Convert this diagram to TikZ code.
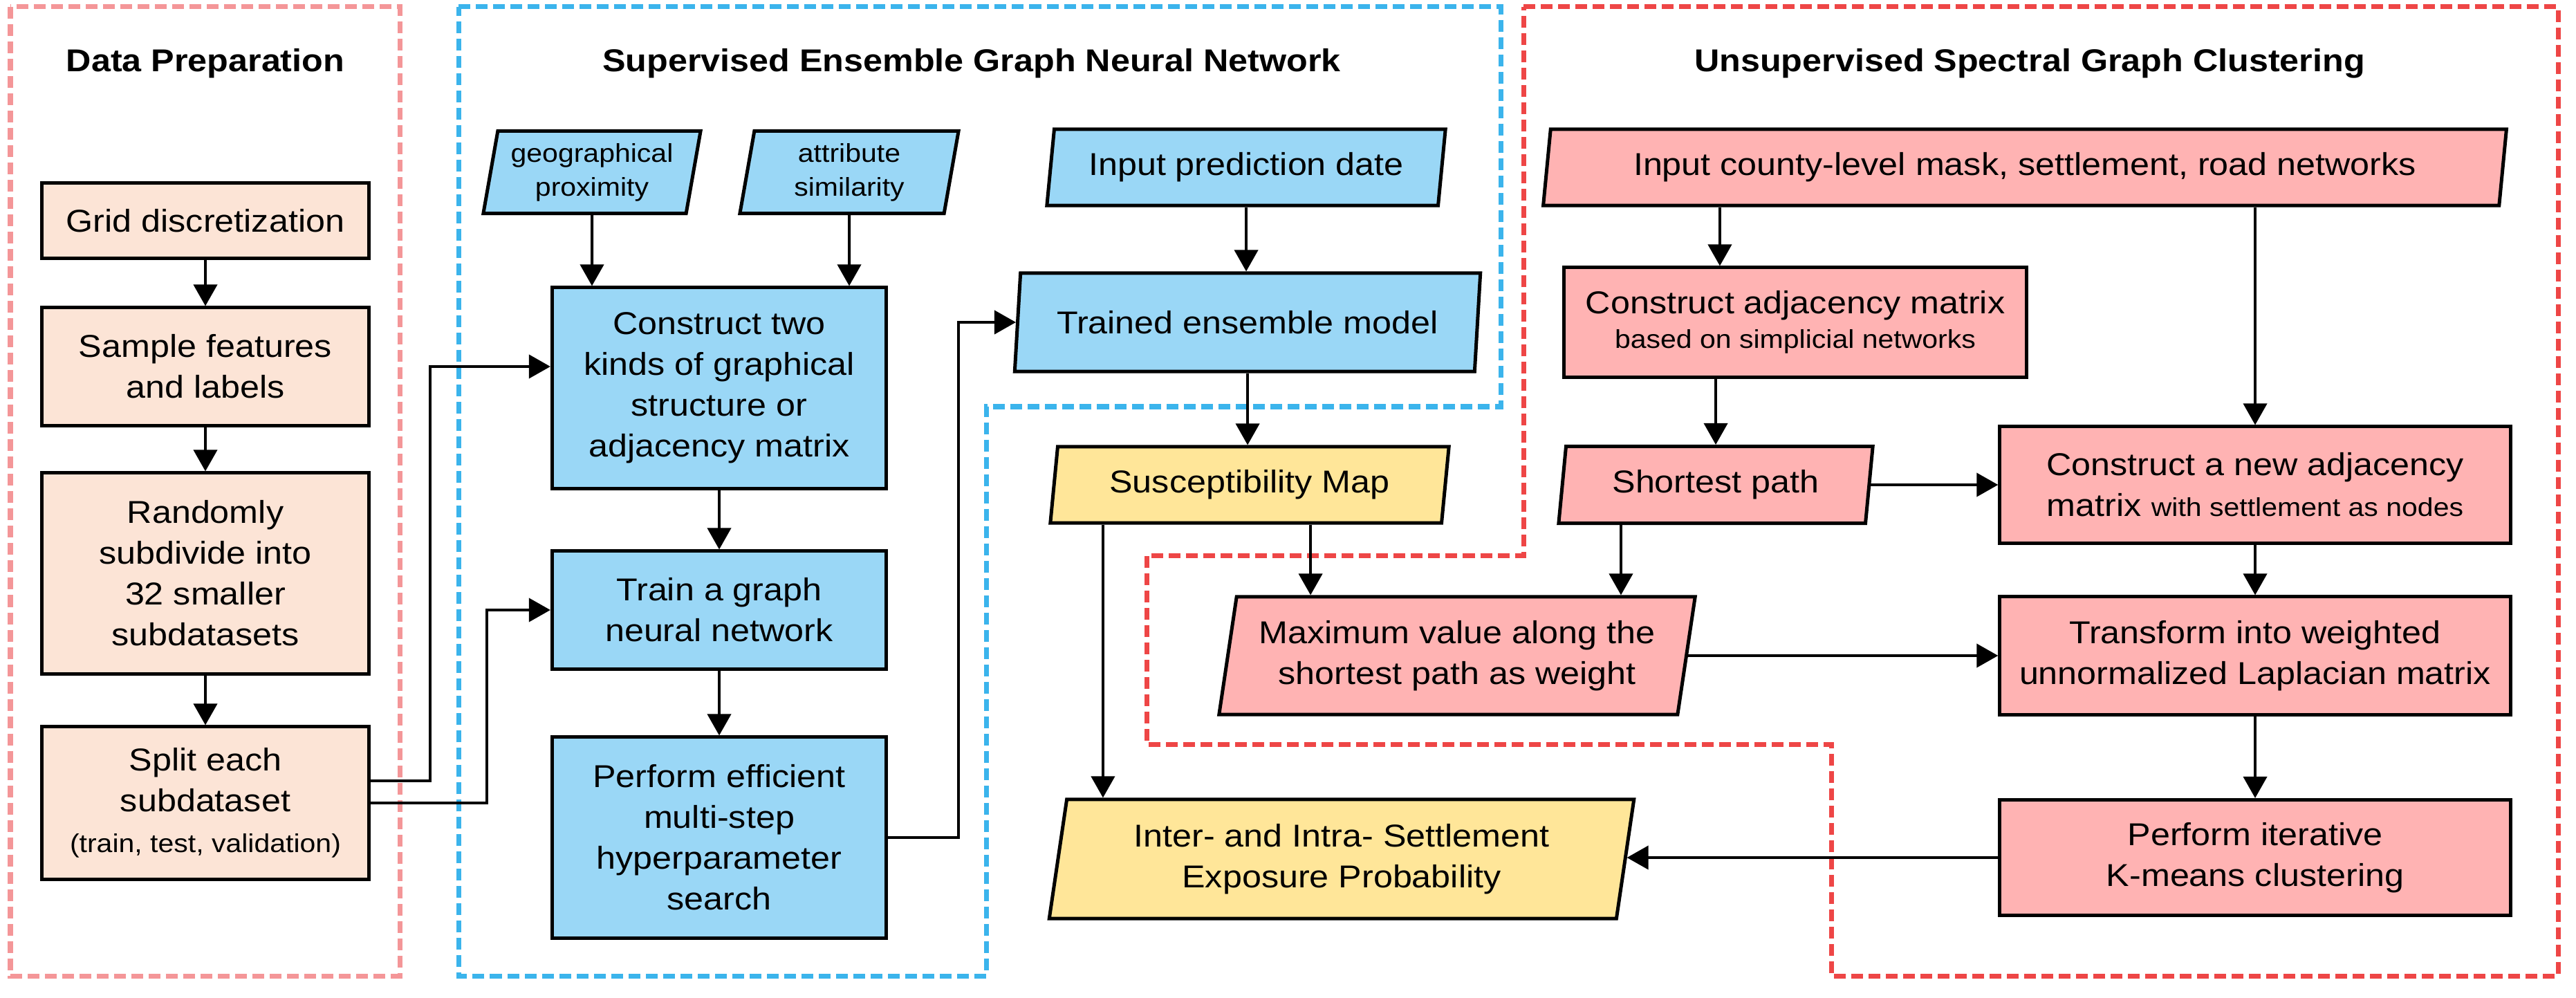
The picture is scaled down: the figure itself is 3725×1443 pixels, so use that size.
\documentclass[tikz,border=0pt]{standalone}
\usepackage{fontspec}
\setmainfont{Liberation Sans}[FakeStretch=1.1]
\usetikzlibrary{arrows.meta,shapes.geometric}
\definecolor{prepfill}{HTML}{FCE4D6}
\definecolor{gnnfill}{HTML}{9AD7F6}
\definecolor{mapfill}{HTML}{FFE699}
\definecolor{clusterfill}{HTML}{FFB3B3}
\definecolor{prepline}{HTML}{F49698}
\definecolor{gnnline}{HTML}{3BB4EC}
\definecolor{clusterline}{HTML}{EE4646}
\newcommand{\boxfont}{\fontsize{13}{16.8}\selectfont}
\newcommand{\notefont}{\fontsize{10.6}{14}\selectfont}

\begin{document}
\begin{tikzpicture}[x=0.01cm,y=-0.01cm]
\tikzstyle{title}=[font=\boxfont\bfseries]
\tikzstyle{box}=[draw,line width=0.05cm,inner sep=0pt,align=center,font=\boxfont]
\tikzstyle{prepbox}=[box,fill=prepfill,minimum width=4.73cm]
\tikzstyle{gnnbox}=[box,fill=gnnfill,minimum width=4.83cm]
\tikzstyle{clusterbox}=[box,fill=clusterfill]
\tikzstyle{slanted}=[box,trapezium,trapezium left angle=76,trapezium right angle=104,trapezium stretches body]
\tikzstyle{gnnio}=[slanted,fill=gnnfill]
\tikzstyle{mapio}=[slanted,fill=mapfill]
\tikzstyle{clusterio}=[slanted,fill=clusterfill]
\tikzstyle{arrow}=[line width=0.04cm,-{Triangle[length=0.31cm,width=0.34cm]}]
\tikzstyle{frame}=[line width=0.07cm,dash pattern=on 0.17cm off 0.08cm]
\useasboundingbox (0,0) rectangle (3725,1443);
\draw[frame,prepline] (15,10) rectangle (578,1411);
\draw[frame,gnnline] (663,10) -- (2170,10) -- (2170,588) -- (1426,588) -- (1426,1411) -- (663,1411) -- cycle;
\draw[frame,clusterline] (2203,10) -- (3699,10) -- (3699,1411) -- (2648,1411) -- (2648,1076) -- (1658,1076) -- (1658,803) -- (2203,803) -- cycle;
\node[title] (preptitle) at (297,92) {Data Preparation};
\node[title] (gnntitle) at (1405,92) {Supervised Ensemble Graph Neural Network};
\node[title] (clustertitle) at (2935,92) {Unsupervised Spectral Graph Clustering};
\node[prepbox,minimum height=1.08cm] (grid) at (297,319) {Grid discretization};
\node[prepbox,minimum height=1.70cm] (sample) at (297,530) {Sample features\\and labels};
\node[prepbox,minimum height=2.90cm] (subdivide) at (297,829) {Randomly\\subdivide into\\32 smaller\\subdatasets};
\node[prepbox,minimum height=2.20cm] (split) at (297,1161) {Split each\\subdataset\\{\notefont(train, test, validation)}};
\node[gnnio,minimum width=3.14cm,minimum height=1.19cm,font=\notefont] (geo) at (856,249) {geographical\\proximity};
\node[gnnio,minimum width=3.16cm,minimum height=1.19cm,font=\notefont] (attr) at (1228,249) {attribute\\similarity};
\node[gnnbox,minimum height=2.90cm] (structure) at (1040,561) {Construct two\\kinds of graphical\\structure or\\adjacency matrix};
\node[gnnbox,minimum height=1.70cm] (train) at (1040,882) {Train a graph\\neural network};
\node[gnnbox,minimum height=2.90cm] (search) at (1040,1211) {Perform efficient\\multi-step\\hyperparameter\\search};
\node[gnnio,minimum width=5.76cm,minimum height=1.10cm] (date) at (1802,242) {Input prediction date};
\node[gnnio,minimum width=6.73cm,minimum height=1.42cm] (model) at (1804,466) {Trained ensemble model};
\node[mapio,minimum width=5.76cm,minimum height=1.10cm] (map) at (1807,701) {Susceptibility Map};
\node[mapio,minimum width=8.45cm,minimum height=1.72cm] (exposure) at (1940,1242) {Inter- and Intra- Settlement\\Exposure Probability};
\node[clusterio,minimum width=13.92cm,minimum height=1.10cm] (input) at (2928,242) {Input county-level mask, settlement, road networks};
\node[clusterbox,minimum width=6.68cm,minimum height=1.58cm] (adjacency) at (2596,466) {Construct adjacency matrix\\[-0.09cm]{\notefont based on simplicial networks}};
\node[clusterio,minimum width=4.54cm,minimum height=1.11cm] (path) at (2481,701) {Shortest path};
\node[clusterio,minimum width=6.88cm,minimum height=1.70cm] (weight) at (2107,948) {Maximum value along the\\shortest path as weight};
\node[clusterbox,minimum width=7.38cm,minimum height=1.68cm] (newadj) at (3261,701) {Construct a new adjacency\\matrix {\notefont with settlement as nodes}};
\node[clusterbox,minimum width=7.38cm,minimum height=1.70cm] (laplacian) at (3261,948) {Transform into weighted\\unnormalized Laplacian matrix};
\node[clusterbox,minimum width=7.38cm,minimum height=1.67cm] (kmeans) at (3261,1240) {Perform iterative\\K-means clustering};
\coordinate (mapleft) at ([xshift=-2.12cm]map.south);
\coordinate (mapright) at ([xshift=0.88cm]map.south);
\coordinate (pathleft) at ([xshift=-1.37cm]path.south);
\coordinate (inputleft) at ([xshift=-1.09cm]adjacency.north);
\draw[arrow] (grid) -- (sample);
\draw[arrow] (sample) -- (subdivide);
\draw[arrow] (subdivide) -- (split);
\draw[arrow] ([yshift=0.32cm]split.east) -- ++(86,0) |- ([yshift=0.31cm]structure.west);
\draw[arrow] (split.east) -- ++(168,0) |- (train.west);
\draw[arrow] (geo) -- (geo |- structure.north);
\draw[arrow] (attr) -- (attr |- structure.north);
\draw[arrow] (structure) -- (train);
\draw[arrow] (train) -- (search);
\draw[arrow] (search.east) -- ++(102,0) |- (model.west);
\draw[arrow] (date.south) -- (date.south |- model.north);
\draw[arrow] (model.south) -- (model.south |- map.north);
\draw[arrow] (mapleft) -- (mapleft |- exposure.north);
\draw[arrow] (mapright) -- (mapright |- weight.north);
\draw[arrow] (pathleft) -- (pathleft |- weight.north);
\draw[arrow] (weight.east) -- (weight.east -| laplacian.west);
\draw[arrow] (path.east) -- (path.east -| newadj.west);
\draw[arrow] (inputleft |- input.south) -- (inputleft);
\draw[arrow] (input.south -| newadj.north) -- (newadj.north);
\draw[arrow] (adjacency.south -| path.north) -- (path.north);
\draw[arrow] (newadj) -- (laplacian);
\draw[arrow] (laplacian) -- (kmeans);
\draw[arrow] (kmeans.west) -- (kmeans.west -| exposure.east);
\end{tikzpicture}
\end{document}
